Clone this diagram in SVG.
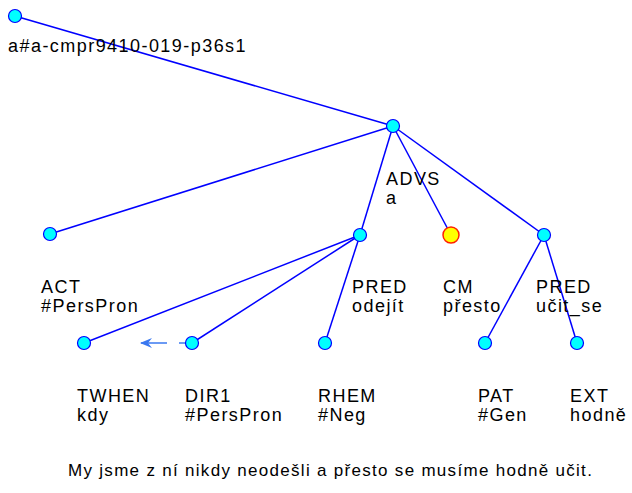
<svg xmlns="http://www.w3.org/2000/svg" width="632" height="493" viewBox="0 0 632 493">
<defs>
<style>
text{font-family:"Liberation Sans",Arial,sans-serif;font-size:18px;letter-spacing:1.45px;fill:#000}
.s{font-size:17px;letter-spacing:1.3px}
.e{stroke:#0000ff;stroke-width:1.5;fill:none}
.n{fill:#00ffff;stroke:#0000ff;stroke-width:1.2}
.y{fill:#ffff00;stroke:#ff2000;stroke-width:1.5}
.a{stroke:#3a78f0;stroke-width:1.5;fill:none}
</style>
<marker id="ah" viewBox="0 0 12 10" refX="11" refY="5" markerWidth="12" markerHeight="10" markerUnits="userSpaceOnUse" orient="auto">
<path d="M0,0 L12,5 L0,10 L4,5 Z" fill="#3a78f0"/>
</marker>
</defs>
<rect width="632" height="493" fill="#fff"/>
<g id="edges">
<line class="e" x1="15" y1="16" x2="393" y2="126"/>
<line class="e" x1="393" y1="126" x2="50" y2="234"/>
<line class="e" x1="393" y1="126" x2="360" y2="235"/>
<line class="e" x1="393" y1="126" x2="451" y2="235"/>
<line class="e" x1="393" y1="126" x2="544" y2="235"/>
<line class="e" x1="360" y1="235" x2="84" y2="343"/>
<line class="e" x1="360" y1="235" x2="192" y2="343"/>
<line class="e" x1="360" y1="235" x2="325" y2="343"/>
<line class="e" x1="544" y1="235" x2="485" y2="343"/>
<line class="e" x1="544" y1="235" x2="577" y2="343"/>
<line class="a" x1="186" y1="343" x2="179" y2="343"/>
<line class="a" x1="167" y1="343" x2="141" y2="343" marker-end="url(#ah)"/>
</g>
<g id="root"><circle class="n" cx="15" cy="16" r="6.5"/><text x="8" y="52">a#a-cmpr9410-019-p36s1</text></g>
<g id="advs"><circle class="n" cx="393" cy="126" r="6.5"/><text x="386" y="185">ADVS</text><text x="386" y="204">a</text></g>
<g id="act"><circle class="n" cx="50" cy="234" r="6.5"/><text x="41" y="293">ACT</text><text x="41" y="312">#PersPron</text></g>
<g id="pred1"><circle class="n" cx="360" cy="235" r="6.5"/><text x="352" y="293">PRED</text><text x="352" y="312">odejít</text></g>
<g id="cm"><circle class="y" cx="451" cy="235" r="8"/><text x="443" y="293">CM</text><text x="443" y="312">přesto</text></g>
<g id="pred2"><circle class="n" cx="544" cy="235" r="6.5"/><text x="536" y="293">PRED</text><text x="536" y="312">učit_se</text></g>
<g id="twhen"><circle class="n" cx="84" cy="343" r="6.5"/><text x="77" y="402">TWHEN</text><text x="77" y="421">kdy</text></g>
<g id="dir1"><circle class="n" cx="192" cy="343" r="6.5"/><text x="185" y="402">DIR1</text><text x="185" y="421">#PersPron</text></g>
<g id="rhem"><circle class="n" cx="325" cy="343" r="6.5"/><text x="318" y="402">RHEM</text><text x="318" y="421">#Neg</text></g>
<g id="pat"><circle class="n" cx="485" cy="343" r="6.5"/><text x="478" y="402">PAT</text><text x="478" y="421">#Gen</text></g>
<g id="ext"><circle class="n" cx="577" cy="343" r="6.5"/><text x="570" y="402">EXT</text><text x="570" y="421">hodně</text></g>
<text class="s" x="68" y="476">My jsme z ní nikdy neodešli a přesto se musíme hodně učit.</text>
</svg>
